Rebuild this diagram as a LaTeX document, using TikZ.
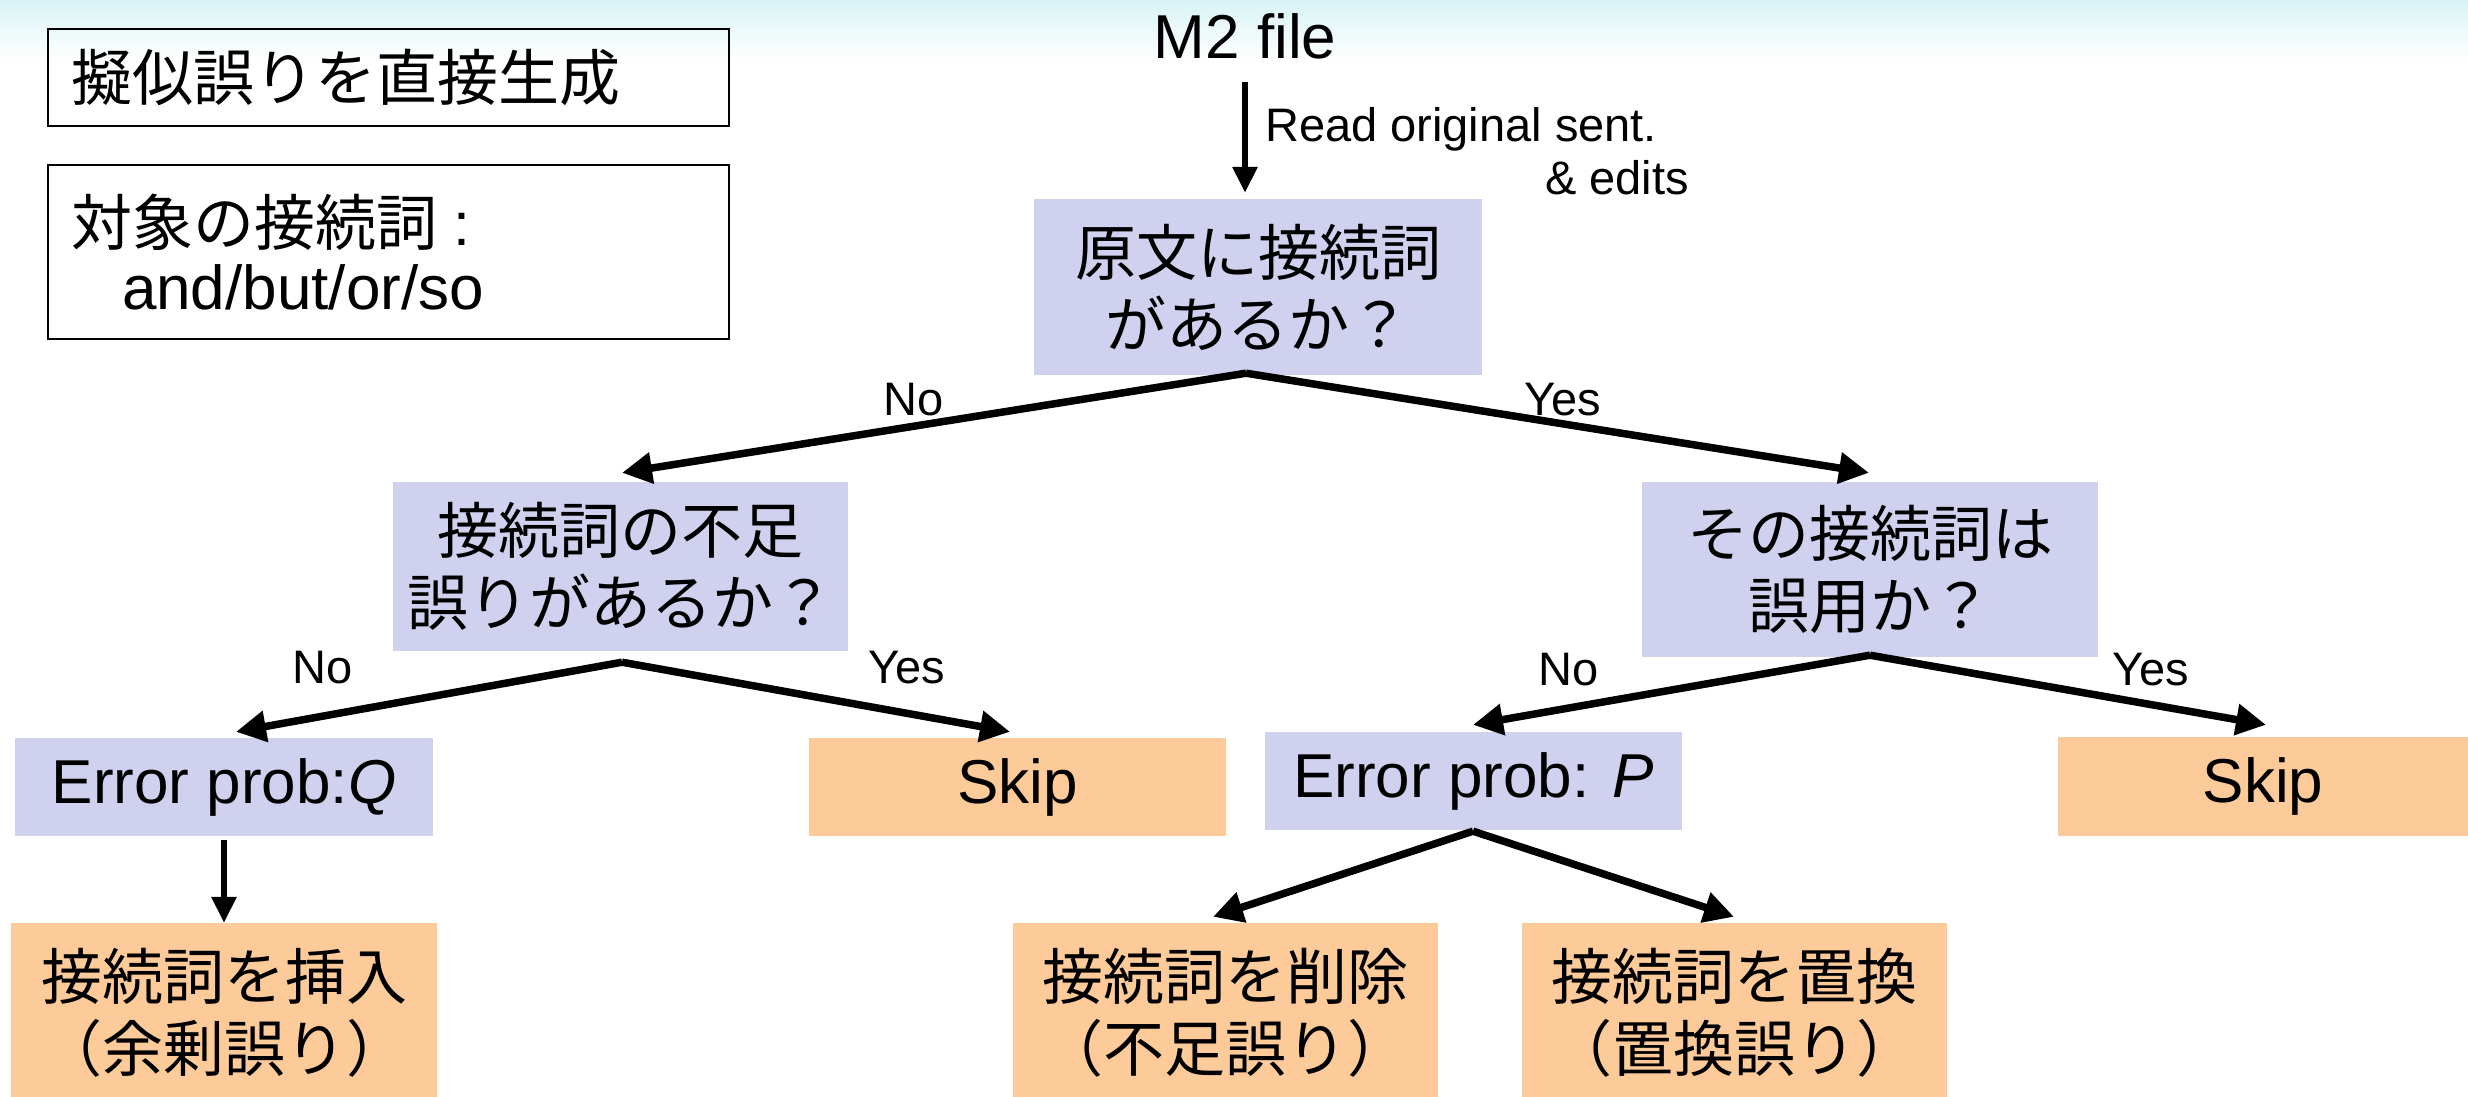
\documentclass[tikz,border=0pt]{standalone}
\usepackage{fontspec}
\setmainfont{Liberation Sans}
\newfontfamily\jp{Noto Sans CJK JP}
\newfontfamily\lat{Liberation Sans}
\usetikzlibrary{arrows.meta,calc}
\definecolor{lav}{RGB}{208,209,238}
\definecolor{peach}{RGB}{253,203,153}
\definecolor{bandtop}{RGB}{216,243,245}
\begin{document}
\begin{tikzpicture}[x=1pt,y=-1pt,
  jpfont/.style={font=\jp\fontsize{61}{72}\selectfont},
  latfont/.style={font=\lat\fontsize{62}{72}\selectfont},
  qbox/.style={fill=lav, inner sep=0pt, align=center},
  obox/.style={fill=peach, inner sep=0pt, align=center},
  infobox/.style={draw, line width=1.5pt, inner xsep=23pt, inner ysep=0pt, text width=635pt, align=left, jpfont},
  lbl/.style={inner sep=0pt, font=\lat\fontsize{47}{53}\selectfont},
  tree/.style={line width=7.5pt, -{Triangle[length=30pt,width=30pt]}},
  vert/.style={line width=6pt, -{Triangle[length=26pt,width=24pt]}}
  ]
\useasboundingbox (0,0) rectangle (2468,1097);
\fill[white] (0,0) rectangle (2468,1097);
\shade[top color=bandtop, bottom color=white] (0,0) rectangle (2468,60);

% info boxes
\node[infobox, minimum height=97pt] (title) at (388.5,77.5) {擬似誤りを直接生成};
\node[infobox, minimum height=174pt] (target) at (388.5,252) {対象の接続詞\hspace{16pt}{\lat :}\\[-8pt]\hspace*{51pt}{\lat\fontsize{62}{72}\selectfont and/but/or/so}};

% top
\node[inner sep=0pt, latfont] (m2) at (1245,36) {M2 file};
\node[lbl, anchor=north west, align=left] (readlbl) at (1265,107) {Read original sent.\\\hspace*{280pt}\& edits};

% decision boxes
\node[qbox, jpfont, minimum width=448pt, minimum height=176pt] (root) at (1258,287) {原文に接続詞\\があるか？};
\node[qbox, jpfont, minimum width=455pt, minimum height=169pt] (fusoku) at (620.5,566.5) {接続詞の不足\\誤りがあるか？};
\node[qbox, jpfont, minimum width=456pt, minimum height=175pt] (goyou) at (1870,569.5) {その接続詞は\\誤用か？};

% probability / skip boxes
\node[qbox, latfont, minimum width=418pt, minimum height=98pt] (errq) at (224,787) {Error prob:\textit{Q}};
\node[obox, latfont, minimum width=417pt, minimum height=98pt] (skipl) at (1017.5,787) {Skip};
\node[qbox, latfont, minimum width=417pt, minimum height=98pt] (errp) at (1473.5,781) {Error prob: \textit{P}};
\node[obox, latfont, minimum width=410pt, minimum height=99pt] (skipr) at (2263,786.5) {Skip};

% action boxes
\node[obox, jpfont, minimum width=426pt, minimum height=180pt] (ins) at (224,1013) {接続詞を挿入\\（余剰誤り）};
\node[obox, jpfont, minimum width=425pt, minimum height=180pt] (del) at (1225.5,1013) {接続詞を削除\\（不足誤り）};
\node[obox, jpfont, minimum width=425pt, minimum height=180pt] (rep) at (1734.5,1013) {接続詞を置換\\（置換誤り）};

% connectors
\draw[vert] ([yshift=-23pt]m2.south) -- ([yshift=6pt]m2.south |- root.north);
\coordinate (rootsplit) at ([xshift=-12pt,yshift=2pt]root.south);
\draw[tree] (rootsplit) -- ([xshift=1.5pt,yshift=9pt]fusoku.north);
\draw[tree] (rootsplit) -- ([xshift=-1pt,yshift=9pt]goyou.north);
\coordinate (fsplit) at ([xshift=1.5pt,yshift=-11pt]fusoku.south);
\draw[tree] (fsplit) -- ([xshift=12pt,yshift=6pt]errq.north);
\draw[tree] (fsplit) -- ([xshift=-7.5pt,yshift=6pt]skipl.north);
\coordinate (gsplit) at ([yshift=2pt]goyou.south);
\draw[tree] (gsplit) -- ([xshift=-0.5pt,yshift=7pt]errp.north);
\draw[tree] (gsplit) -- ([xshift=3pt,yshift=12pt]skipr.north);
\draw[vert] ([yshift=-4pt]errq.south) -- (ins.north);
\coordinate (psplit) at ([xshift=-0.5pt,yshift=-1pt]errp.south);
\draw[tree] (psplit) -- ([xshift=-12.5pt,yshift=6pt]del.north);
\draw[tree] (psplit) -- ([xshift=-0.5pt,yshift=6pt]rep.north);

% labels
\node[lbl] (no1) at (914,400) {No};
\node[lbl] (yes1) at (1563,400) {Yes};
\node[lbl] (no2) at (323,668) {No};
\node[lbl] (yes2) at (907,668) {Yes};
\node[lbl] (no3) at (1569,670) {No};
\node[lbl] (yes3) at (2151,670) {Yes};
\end{tikzpicture}
\end{document}
